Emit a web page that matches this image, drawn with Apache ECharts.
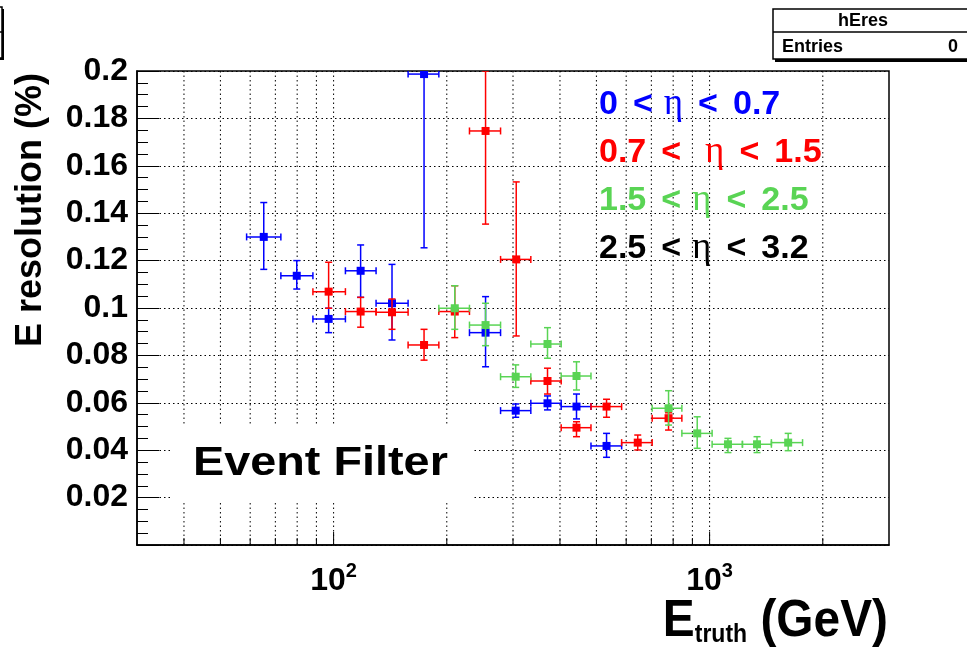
<!DOCTYPE html>
<html>
<head>
<meta charset="utf-8">
<script src="https://cdn.jsdelivr.net/npm/echarts@6/dist/echarts.min.js"></script>
<style>
html, body { margin: 0; padding: 0; background: #fff; }
#chart { width: 967px; height: 653px; }
</style>
</head>
<body>
<div id="chart"></div>
<script>
// Energy resolution versus true energy, one series per pseudorapidity bin.
// Each point: bin centre, bin edges, resolution and its error range.

// 0 < eta < 0.7
const blueE      = [65.2, 79.8, 97, 118, 143, 174, 253.6, 305, 370.6, 442.6, 532];
const blueElo    = [58.7, 72.4, 88.1, 107.5, 129.7, 157.8, 229.8, 278, 334.6, 403, 483.6];
const blueEhi    = [72.4, 88.1, 107.5, 129.7, 157.8, 190.5, 278, 334.6, 403, 483.6, 583.5];
const blueRes    = [0.130, 0.1136, 0.0954, 0.1157, 0.102, 0.1987, 0.0896, 0.0567, 0.0598, 0.0584, 0.0418];
const blueResLo  = [0.1163, 0.108, 0.0896, 0.1045, 0.0865, 0.1254, 0.0752, 0.0539, 0.057, 0.0532, 0.037];
const blueResHi  = [0.1445, 0.120, 0.0999, 0.1266, 0.1184, 0.2, 0.1048, 0.0595, 0.0629, 0.0637, 0.0471];

// 0.7 < eta < 1.5
const redE       = [97, 118, 143, 174, 210, 253.6, 306, 370.6, 442.6, 532, 644, 777.7];
const redElo     = [88.1, 107.5, 129.7, 157.8, 190.5, 229.8, 278, 334.6, 403, 483.6, 583.5, 703.5];
const redEhi     = [107.5, 129.7, 157.8, 190.5, 229.8, 278, 334.6, 403, 483.6, 583.5, 703.5, 843.8];
const redRes     = [0.1069, 0.0985, 0.0982, 0.0844, 0.0985, 0.1747, 0.1205, 0.0692, 0.0495, 0.0584, 0.0432, 0.0535];
const redResLo   = [0.0999, 0.0919, 0.091, 0.078, 0.0875, 0.1354, 0.0882, 0.0637, 0.0457, 0.0539, 0.0401, 0.0485];
const redResHi   = [0.1193, 0.1045, 0.1038, 0.091, 0.1094, 0.2, 0.1532, 0.0746, 0.052, 0.0615, 0.0464, 0.0558];

// 1.5 < eta < 2.5
const greenE     = [210, 253.6, 305, 370.6, 442.6, 777.7, 927, 1119, 1337, 1618];
const greenElo   = [190.5, 229.8, 278, 334.6, 403, 703.5, 843.8, 1015.5, 1222.6, 1460];
const greenEhi   = [229.8, 278, 334.6, 403, 483.6, 843.8, 1015.5, 1222.6, 1460, 1767];
const greenRes   = [0.0999, 0.0928, 0.071, 0.0848, 0.0713, 0.0577, 0.0471, 0.0425, 0.0425, 0.0432];
const greenResLo = [0.091, 0.0841, 0.0665, 0.0788, 0.0654, 0.0506, 0.0408, 0.039, 0.039, 0.0398];
const greenResHi = [0.1094, 0.102, 0.076, 0.0917, 0.0773, 0.0651, 0.0541, 0.045, 0.0457, 0.0471];

// Axis ranges and tick positions
const xMin = 30, xMax = 3000;
const yMin = 0, yMax = 0.2, yStep = 0.02;
const xGridTicks = [40, 50, 60, 70, 80, 90, 100, 200, 300, 400, 500, 600, 700, 800, 900, 1000, 2000];
const xMajorTicks = [100, 1000];

// Legend entries: lower edge, upper edge
const legendLo = ['0', '0.7', '1.5', '2.5'];
const legendHi = ['0.7', '1.5', '2.5', '3.2'];

const SANS = 'Liberation Sans, Arial, Helvetica, sans-serif';
const SERIF = 'Liberation Serif, DejaVu Serif, Times New Roman, serif';
const BLUE = '#0000ff', RED = '#ff0000', GREEN = '#59d454', BLACK = '#000000';
const lineColors = [BLUE, RED, GREEN, BLACK];

function buildPoints(E, Elo, Ehi, R, Rlo, Rhi) {
  return E.map((e, i) => [e, R[i], Elo[i], Ehi[i], Rlo[i], Rhi[i]]);
}

function errorBarRenderer(color) {
  return function (params, api) {
    const x = api.value(0), y = api.value(1);
    const c = api.coord([x, y]);
    const l = api.coord([api.value(2), y]);
    const r = api.coord([api.value(3), y]);
    const b = api.coord([x, api.value(4)]);
    const t = api.coord([x, api.value(5)]);
    const cap = 3.5, half = 4;
    const st = { stroke: color, lineWidth: 1.5 };
    return {
      type: 'group',
      children: [
        { type: 'line', shape: { x1: l[0], y1: c[1], x2: r[0], y2: c[1] }, style: st },
        { type: 'line', shape: { x1: c[0], y1: b[1], x2: c[0], y2: t[1] }, style: st },
        { type: 'line', shape: { x1: l[0], y1: c[1] - cap, x2: l[0], y2: c[1] + cap }, style: st },
        { type: 'line', shape: { x1: r[0], y1: c[1] - cap, x2: r[0], y2: c[1] + cap }, style: st },
        { type: 'line', shape: { x1: c[0] - cap, y1: b[1], x2: c[0] + cap, y2: b[1] }, style: st },
        { type: 'line', shape: { x1: c[0] - cap, y1: t[1], x2: c[0] + cap, y2: t[1] }, style: st },
        { type: 'rect', shape: { x: c[0] - half, y: c[1] - half, width: 2 * half, height: 2 * half }, style: { fill: color } }
      ]
    };
  };
}

function logGridRenderer(params, api) {
  const v = api.value(0);
  const top = api.coord([v, yMax]);
  const bot = api.coord([v, yMin]);
  const tickLen = xMajorTicks.indexOf(v) >= 0 ? 13 : 7;
  return {
    type: 'group',
    children: [
      { type: 'line', shape: { x1: bot[0], y1: bot[1], x2: top[0], y2: top[1] },
        style: { stroke: '#000', lineWidth: 1, lineDash: [1.5, 3] } },
      { type: 'line', shape: { x1: bot[0], y1: bot[1], x2: bot[0], y2: bot[1] - tickLen },
        style: { stroke: '#000', lineWidth: 1 } }
    ]
  };
}

// "lo < eta < hi", the second line carries a wider gap before eta
function legendText(i) {
  const gapEta = i === 1 ? 'w' : 'n';
  return '{t|' + legendLo[i] + '}{s| }{t|<}{' + gapEta + '| }{e|\u03b7}{s| }{t|<}{s| }{t|' + legendHi[i] + '}';
}

const legendGraphics = legendLo.map((lo, i) => ({
  type: 'text',
  x: 599,
  y: 86 + i * 48,
  z: 100,
  style: {
    text: legendText(i),
    align: 'left', verticalAlign: 'top',
    rich: {
      t: { fontFamily: SANS, fontWeight: 'bold', fontSize: 34, fill: lineColors[i] },
      s: { fontFamily: SANS, fontSize: 34, width: 15 },
      n: { fontFamily: SANS, fontSize: 34, width: 11 },
      w: { fontFamily: SANS, fontSize: 34, width: 24 },
      e: { fontFamily: SERIF, fontWeight: 'normal', fontSize: 37, fill: lineColors[i] }
    }
  }
}));

const chart = echarts.init(document.getElementById('chart'), null, { renderer: 'canvas' });

chart.setOption({
  animation: false,
  backgroundColor: '#ffffff',
  grid: {
    show: true,
    left: 137, right: 78, top: 71, bottom: 108,
    outerBoundsMode: 'none',
    containLabel: false,
    borderColor: '#000', borderWidth: 1.5,
    backgroundColor: 'transparent'
  },
  xAxis: {
    type: 'log',
    logBase: 10,
    min: xMin, max: xMax,
    axisLine: { show: true, lineStyle: { color: '#000', width: 1.5 } },
    axisTick: { show: false },
    splitLine: { show: false },
    axisLabel: {
      margin: 16,
      showMinLabel: false,
      showMaxLabel: false,
      formatter: function (v) {
        const lg = Math.log10(v);
        const e = Math.round(lg);
        if (Math.abs(lg - e) > 0.01) return '';
        return '{b|10}{s|' + e + '}';
      },
      rich: {
        b: { fontFamily: SANS, fontWeight: 'bold', fontSize: 32, color: '#000', verticalAlign: 'bottom' },
        s: { fontFamily: SANS, fontWeight: 'bold', fontSize: 20, color: '#000', verticalAlign: 'bottom', padding: [0, 0, 16, 0] }
      }
    }
  },
  yAxis: {
    type: 'value',
    min: yMin, max: yMax, interval: yStep,
    name: 'E resolution (%)',
    nameLocation: 'middle',
    nameGap: 88,
    nameRotate: 90,
    nameTextStyle: {
      fontFamily: SANS, fontWeight: 'bold', fontSize: 36, color: '#000',
      padding: [0, 0, 0, 196]
    },
    axisLine: { show: true, lineStyle: { color: '#000', width: 1.5 } },
    axisTick: { show: true, inside: true, length: 22, lineStyle: { color: '#000', width: 1 } },
    minorTick: { show: true, splitNumber: 4, length: 11, lineStyle: { color: '#000', width: 1 } },
    splitLine: { show: true, lineStyle: { color: '#000', width: 1, type: [1.5, 3] } },
    axisLabel: {
      margin: 9,
      fontFamily: SANS, fontWeight: 'bold', fontSize: 32, color: '#000',
      formatter: function (v) {
        if (Math.abs(v) < 1e-9) return '';
        return String(+v.toFixed(2));
      }
    }
  },
  series: [
    {
      name: 'grid', type: 'custom', z: 1, silent: true,
      renderItem: logGridRenderer,
      data: xGridTicks.map(v => [v, yMin])
    },
    {
      name: '0 < eta < 0.7', type: 'custom', z: 3, clip: true,
      renderItem: errorBarRenderer(BLUE),
      data: buildPoints(blueE, blueElo, blueEhi, blueRes, blueResLo, blueResHi)
    },
    {
      name: '0.7 < eta < 1.5', type: 'custom', z: 3, clip: true,
      renderItem: errorBarRenderer(RED),
      data: buildPoints(redE, redElo, redEhi, redRes, redResLo, redResHi)
    },
    {
      name: '1.5 < eta < 2.5', type: 'custom', z: 3, clip: true,
      renderItem: errorBarRenderer(GREEN),
      data: buildPoints(greenE, greenElo, greenEhi, greenRes, greenResLo, greenResHi)
    }
  ],
  graphic: [
    // x-axis title with subscript, anchored at its right edge
    { type: 'text', z: 60, x: 888, y: 596, scaleX: 0.92,
      style: {
        text: '{m|E}{s|truth}{m| (GeV)}',
        align: 'right', verticalAlign: 'top',
        rich: {
          m: { fontFamily: SANS, fontWeight: 'bold', fontSize: 52, fill: '#000', verticalAlign: 'bottom' },
          s: { fontFamily: SANS, fontWeight: 'bold', fontSize: 25, fill: '#000', verticalAlign: 'bottom' }
        }
      } },
    // label pave inside the frame
    { type: 'rect', z: 50, shape: { x: 172, y: 425, width: 301, height: 78 }, style: { fill: '#fff' } },
    { type: 'text', z: 60, x: 193, y: 444, scaleX: 1.17,
      style: { text: 'Event Filter', fontFamily: SANS, fontWeight: 'bold', fontSize: 40, fill: '#000', align: 'left', verticalAlign: 'top' } },
    // statistics box
    { type: 'rect', z: 50, shape: { x: 775, y: 11, width: 200, height: 51 }, style: { fill: '#000' } },
    { type: 'rect', z: 51, shape: { x: 773, y: 9, width: 200, height: 50 }, style: { fill: '#fff', stroke: '#000', lineWidth: 1.5 } },
    { type: 'line', z: 52, shape: { x1: 773, y1: 32, x2: 967, y2: 32 }, style: { stroke: '#000', lineWidth: 1.5 } },
    { type: 'text', z: 53, x: 863, y: 21, style: { text: 'hEres', fontFamily: SANS, fontWeight: 'bold', fontSize: 18, fill: '#000', align: 'center', verticalAlign: 'middle' } },
    { type: 'text', z: 53, x: 782, y: 47, style: { text: 'Entries', fontFamily: SANS, fontWeight: 'bold', fontSize: 18, fill: '#000', align: 'left', verticalAlign: 'middle' } },
    { type: 'text', z: 53, x: 958, y: 47, style: { text: '0', fontFamily: SANS, fontWeight: 'bold', fontSize: 18, fill: '#000', align: 'right', verticalAlign: 'middle' } },
    // title pave, mostly outside the canvas on the left
    { type: 'rect', z: 50, shape: { x: -40, y: 9, width: 44, height: 51 }, style: { fill: '#000' } },
    { type: 'rect', z: 51, shape: { x: -40, y: 7, width: 42, height: 51 }, style: { fill: '#fff', stroke: '#000', lineWidth: 1.5 } },
    { type: 'line', z: 52, shape: { x1: 0, y1: 32, x2: 2, y2: 32 }, style: { stroke: '#000', lineWidth: 1.5 } }
  ].concat(legendGraphics)
});
</script>
</body>
</html>
